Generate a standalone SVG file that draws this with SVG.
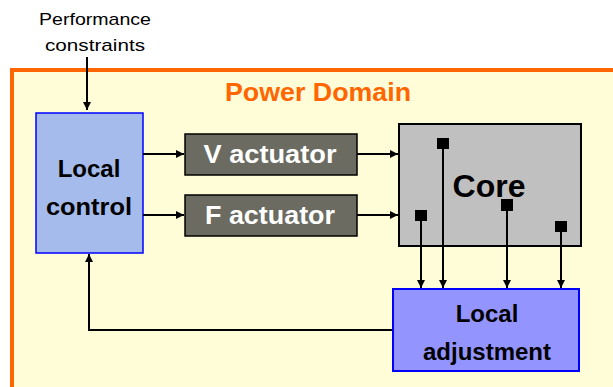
<svg xmlns="http://www.w3.org/2000/svg" width="613" height="387" viewBox="0 0 613 387">
<style>
text{font-family:"Liberation Sans",Arial,sans-serif;text-anchor:middle}
.b{font-weight:bold;font-size:24px;fill:#000}
.w{font-weight:bold;font-size:25px;fill:#fff}
.p{font-size:17px;fill:#000}
.c{stroke:#000;stroke-width:2;fill:none}
</style>
<defs>
<marker id="ah2" viewBox="0 0 10 10" refX="10" refY="5" markerWidth="8" markerHeight="8" orient="auto" markerUnits="userSpaceOnUse">
<path d="M0,0 L10,5 L0,10 z" fill="#000"/>
</marker>
</defs>
<rect width="613" height="387" fill="#fff"/>
<g id="power-domain">
<rect x="12" y="70" width="620" height="340" fill="#FFFDD8" stroke="#FF6600" stroke-width="4"/>
<text x="318" y="101" style="font-weight:bold;font-size:25px;fill:#FF6600" textLength="186" lengthAdjust="spacingAndGlyphs">Power Domain</text>
</g>
<g id="perf">
<text x="95" y="25" class="p" textLength="112" lengthAdjust="spacingAndGlyphs">Performance</text>
<text x="95" y="51" class="p" textLength="100" lengthAdjust="spacingAndGlyphs">constraints</text>
</g>
<g id="local-control">
<rect x="36" y="113" width="107" height="140" fill="#A4BBEB" stroke="#0000FF" stroke-width="1.5"/>
<text x="89" y="177" class="b">Local</text>
<text x="89" y="215" class="b" textLength="86" lengthAdjust="spacingAndGlyphs">control</text>
</g>
<g id="v-actuator">
<rect x="185" y="134" width="172" height="41" fill="#6B6B62" stroke="#000" stroke-width="1.5"/>
<text x="270" y="163" class="w" textLength="133" lengthAdjust="spacingAndGlyphs">V actuator</text>
</g>
<g id="f-actuator">
<rect x="185" y="195" width="172" height="41" fill="#6B6B62" stroke="#000" stroke-width="1.5"/>
<text x="270" y="224" class="w" textLength="130" lengthAdjust="spacingAndGlyphs">F actuator</text>
</g>
<g id="core">
<rect x="399" y="124" width="182" height="122" fill="#C0C0C0" stroke="#000" stroke-width="2"/>
<text x="489" y="197" style="font-weight:bold;font-size:32px;fill:#000">Core</text>
<rect x="437" y="138" width="12" height="11" fill="#000"/>
<rect x="415" y="210" width="12" height="11" fill="#000"/>
<rect x="501" y="199" width="12" height="12" fill="#000"/>
<rect x="555" y="221" width="12" height="11" fill="#000"/>
</g>
<g id="local-adjustment">
<rect x="393" y="289" width="186" height="82" fill="#9494FF" stroke="#0000FF" stroke-width="2"/>
<text x="487" y="322" class="b">Local</text>
<text x="487" y="360" class="b">adjustment</text>
</g>
<g id="connectors">
<path class="c" d="M87,57 V110" marker-end="url(#ah2)"/>
<path class="c" d="M143,154 H184" marker-end="url(#ah2)"/>
<path class="c" d="M143,215 H184" marker-end="url(#ah2)"/>
<path class="c" d="M357,154 H398" marker-end="url(#ah2)"/>
<path class="c" d="M357,215 H398" marker-end="url(#ah2)"/>
<path class="c" d="M421,221 V288" marker-end="url(#ah2)"/>
<path class="c" d="M443,149 V288" marker-end="url(#ah2)"/>
<path class="c" d="M507,211 V288" marker-end="url(#ah2)"/>
<path class="c" d="M561,232 V288" marker-end="url(#ah2)"/>
<path class="c" d="M392,330 H89 V254" marker-end="url(#ah2)"/>
</g>
</svg>
